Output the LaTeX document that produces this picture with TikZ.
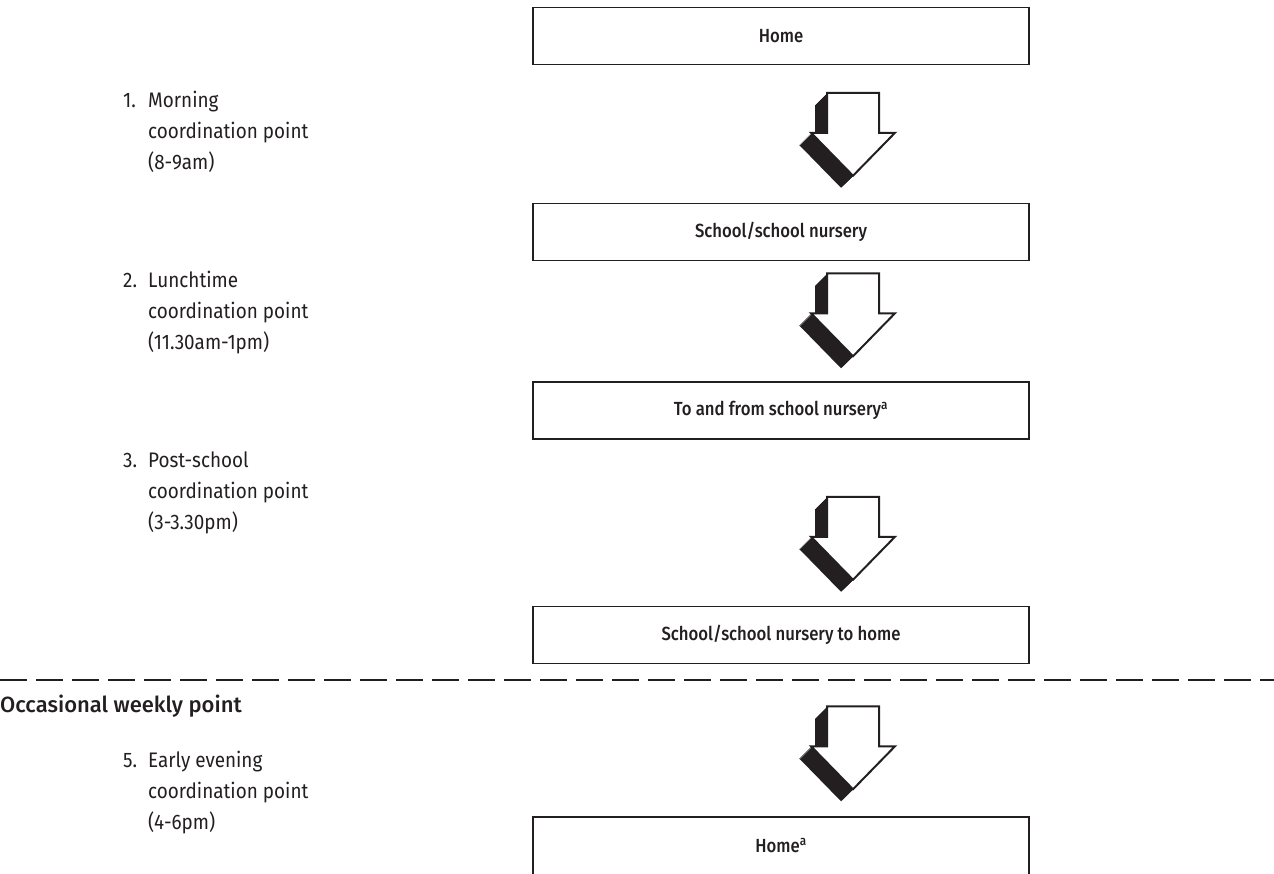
\documentclass[tikz,border=0pt]{standalone}
\usepackage{fontspec}
\setmainfont{Fira Sans}[BoldFont={Fira Sans Medium}]
\newfontfamily\labelfont{Fira Sans}[FakeStretch=0.9]
\newfontfamily\stagefont{Fira Sans Medium}[FakeStretch=0.88]
\newfontfamily\headfont{Fira Sans Medium}
\usetikzlibrary{calc}
\definecolor{ink}{HTML}{231F20}

\tikzset{
  x=1pt, y=-1pt,
  stage/.style={draw=ink, line width=1.5pt, minimum width=496pt, minimum height=57pt,
    inner sep=0pt, font=\fontsize{19}{22}\stagefont, text=ink},
  lbl/.style={anchor=base west, inner sep=0pt, font=\fontsize{21}{24}\labelfont, text=ink},
  % hollow block arrow with an extruded shadow towards the lower left
  blockarrow/.pic={
    \foreach \s in {0,1,...,12}{
      \fill[ink, shift={(-\s,\s)}] (-26,0) -- (26,0) -- (26,40) -- (42,40) -- (0,83)
        -- (-42,40) -- (-26,40) -- cycle;
    }
    \filldraw[fill=white, draw=ink, line width=2pt, line join=miter]
      (-26,0) -- (26,0) -- (26,40) -- (42,40) -- (0,83) -- (-42,40) -- (-26,40) -- cycle;
  }
}

% a numbered three-line label with a hanging indent
\newcommand{\steplabel}[6]{%
  \node[lbl] (#1n) at (123,#3) {#2};
  \node[lbl] (#1a) at (148,#3) {#4};
  \node[lbl] (#1b) at (148,#3+31) {#5};
  \node[lbl] (#1c) at (148,#3+62) {#6};
}

\begin{document}
\begin{tikzpicture}
\useasboundingbox (0,0) rectangle (1274,873);

% stages of the day
\node[stage] (home)   at (781,36)  {Home};
\node[stage] (school) at (781,232) {School/school nursery};
\node[stage] (lunch)  at (781,410.5) {To and from school nursery\textsuperscript{a}};
\node[stage] (back)   at (781,635) {School/school nursery to home};
\node[stage, minimum height=70pt] (homeb) at (781,852) {};
\node[anchor=base, inner sep=0pt, font=\fontsize{19}{22}\stagefont, text=ink] (homebt)
  at (781,852) {Home\textsuperscript{a}};

% block arrows, each ending just above the stage it leads to
\path ($(school.north)+(72,-110)$) pic {blockarrow};
\path ($(lunch.north)+(72,-108)$)  pic {blockarrow};
\path ($(back.north)+(72,-109)$)   pic {blockarrow};
\path ($(homeb.north)+(72,-110)$)  pic {blockarrow};

% separator for the occasional point
\coordinate (sep) at (0,680);
\coordinate (sepend) at (1274,680);
\draw[ink, line width=2pt, dash pattern=on 27pt off 9pt] (sep) -- (sepend);

% coordination points
\steplabel{m}{1.}{107}{Morning}{coordination point}{(8-9am)}
\steplabel{l}{2.}{287}{Lunchtime}{coordination point}{(11.30am-1pm)}
\steplabel{p}{3.}{467}{Post-school}{coordination point}{(3-3.30pm)}
\node[lbl, font=\fontsize{22}{26}\headfont] (occ) at (0,712) {Occasional weekly point};
\steplabel{e}{5.}{767}{Early evening}{coordination point}{(4-6pm)}
\end{tikzpicture}
\end{document}
